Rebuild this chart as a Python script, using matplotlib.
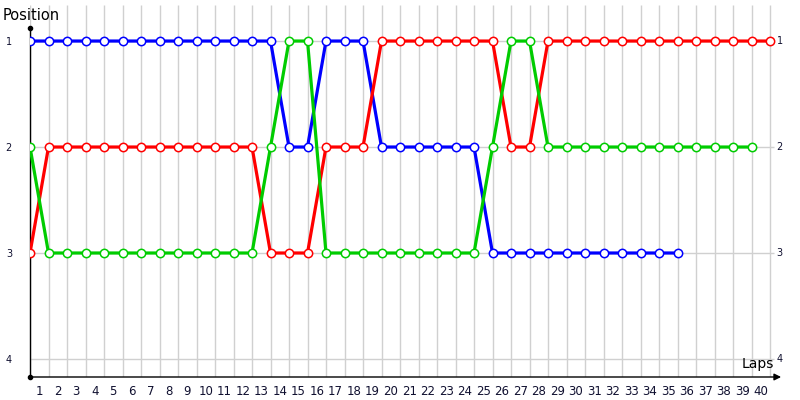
import matplotlib
matplotlib.use("Agg")
import matplotlib.pyplot as plt
import numpy as np

# positions per lap (lap 0 = start)
laps_blue = list(range(0, 36))
pos_blue = [1] * 14 + [2, 2, 1, 1, 1] + [2] * 6 + [3] * 11

laps_red = list(range(0, 41))
pos_red = [3] + [2] * 12 + [3, 3, 3, 2, 2, 2] + [1] * 7 + [2, 2] + [1] * 13

laps_green = list(range(0, 40))
pos_green = [2] + [3] * 12 + [2, 1, 1] + [3] * 9 + [2, 1, 1] + [2] * 12

series = [
    (laps_blue, pos_blue, "#0000ff"),
    (laps_red, pos_red, "#ff0000"),
    (laps_green, pos_green, "#00cc00"),
]

lap_labels = [str(i) for i in range(1, 41)]
positions = [1, 2, 3, 4]

fig = plt.figure(figsize=(8, 4), dpi=100)
ax = fig.add_axes([30 / 800, 23 / 400, 750 / 800, 372 / 400])
xmax = 40.54
ymin, ymax = 4.17, 0.66
ax.set_xlim(0, xmax)
ax.set_ylim(ymin, ymax)

for s in ax.spines.values():
    s.set_visible(False)

# grid
ax.vlines(range(0, 41), ymax, ymin, color="#d0d0d0", lw=1, zorder=0)
ax.hlines(positions, 0, 40.2, color="#d0d0d0", lw=1, zorder=0)

# axes lines
ax.plot([0, 0], [ymin, 0.877], color="black", lw=1, zorder=1, clip_on=False)
ax.plot([0], [0.877], "o", color="black", ms=3, clip_on=False)
ax.plot([0], [ymin], "o", color="black", ms=3, clip_on=False, zorder=5)
ax.annotate("", xy=(40.6, ymin), xytext=(0, ymin),
            arrowprops=dict(arrowstyle="-|>", color="black", lw=1,
                            mutation_scale=10, shrinkA=0, shrinkB=0),
            annotation_clip=False)

for x, y, c in series:
    ax.plot(x, y, color=c, lw=2.3, zorder=2)
    ax.plot(x, y, "o", ms=6, mfc="white", mec=c, mew=1.1, zorder=3)

ax.set_xticks(np.arange(1, 41) - 0.5, lap_labels, fontsize=8.5)
ax.set_yticks(positions, [str(p) for p in positions], fontsize=7)
ax.tick_params(axis="x", length=0, pad=6, colors="#101030")
ax.tick_params(axis="y", length=0, pad=13, colors="#101030")

for p in positions:
    ax.text(40.35, p, str(p), fontsize=7, va="center", ha="left",
            color="#101030", clip_on=False)

fig.text(3 / 800, 1 - 16 / 400, "Position", fontsize=10.5, va="center",
         ha="left")
fig.text(742 / 800, 1 - 364 / 400, "Laps", fontsize=10, va="center",
         ha="left")

fig.savefig("out.png", dpi=100)
